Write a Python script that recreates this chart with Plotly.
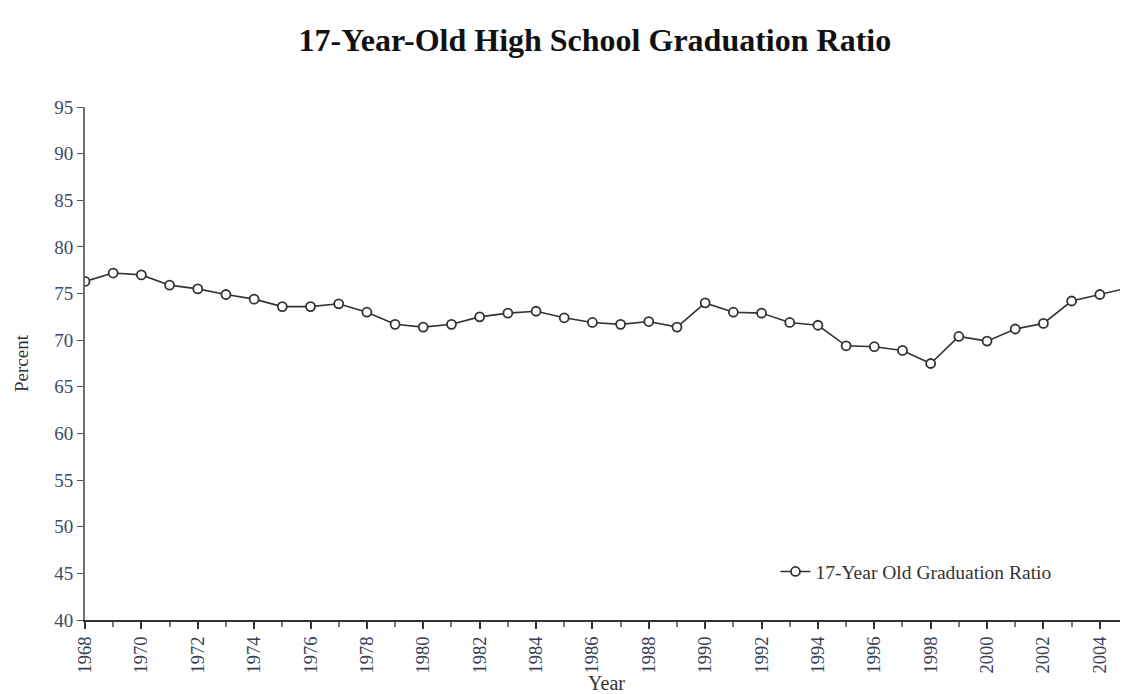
import plotly.graph_objects as go

years = list(range(1968, 2006))
ratio = [76.3, 77.2, 77.0, 75.9, 75.5, 74.9, 74.4, 73.6, 73.6, 73.9,
         73.0, 71.7, 71.4, 71.7, 72.5, 72.9, 73.1, 72.4, 71.9, 71.7,
         72.0, 71.4, 74.0, 73.0, 72.9, 71.9, 71.6, 69.4, 69.3, 68.9,
         67.5, 70.4, 69.9, 71.2, 71.8, 74.2, 74.9, 75.6]
x_ticks = list(range(1968, 2005, 2))
y_ticks = list(range(40, 96, 5))

serif = "Liberation Serif, Times New Roman, serif"

fig = go.Figure()
fig.add_trace(go.Scatter(
    x=years, y=ratio, mode="lines+markers",
    name="17-Year Old Graduation Ratio",
    line=dict(color="#333333", width=1.6),
    marker=dict(symbol="circle", size=9, color="white",
                line=dict(color="#333333", width=1.8)),
))

fig.update_layout(
    template="none",
    width=1120, height=686,
    paper_bgcolor="white", plot_bgcolor="white",
    margin=dict(l=77, r=0, t=99, b=74),
    title=dict(text="<b>17-Year-Old High School Graduation Ratio</b>",
               x=0.524, xanchor="center", y=1 - 32 / 686, yanchor="middle",
               font=dict(family=serif, size=32, color="#111111")),
    font=dict(family=serif, color="#333333"),
    showlegend=True,
    legend=dict(x=0.662, y=0.094, xanchor="left", yanchor="middle",
                bgcolor="rgba(0,0,0,0)", font=dict(family=serif, size=19.5, color="#333333")),
)

fig.update_xaxes(
    range=[1968, 2005], tickmode="array", tickvals=x_ticks,
    ticktext=[str(v) for v in x_ticks], tickangle=-90,
    ticks="outside", ticklen=7, tickwidth=2, tickcolor="#333333",
    minor=dict(dtick=1, tick0=1968, ticks="outside", ticklen=5, tickwidth=1.5, tickcolor="#777777", showgrid=False),
    showline=True, linecolor="#333333", linewidth=2,
    showgrid=False, zeroline=False, automargin=False,
    tickfont=dict(family=serif, size=18.5, color="#3a3f55"),
    title=dict(text="Year", font=dict(family=serif, size=20, color="#333333"), standoff=16),
)
fig.update_yaxes(
    range=[40, 95], tickmode="array", tickvals=y_ticks,
    ticks="outside", ticklen=6, tickwidth=1.2, tickcolor="#555555",
    showline=True, linecolor="#707070", linewidth=2,
    showgrid=False, zeroline=False, automargin=False,
    tickfont=dict(family=serif, size=19, color="#404a66"),
    title=dict(text="Percent", font=dict(family=serif, size=19, color="#333333"), standoff=21),
)

fig.write_html("out.html")
